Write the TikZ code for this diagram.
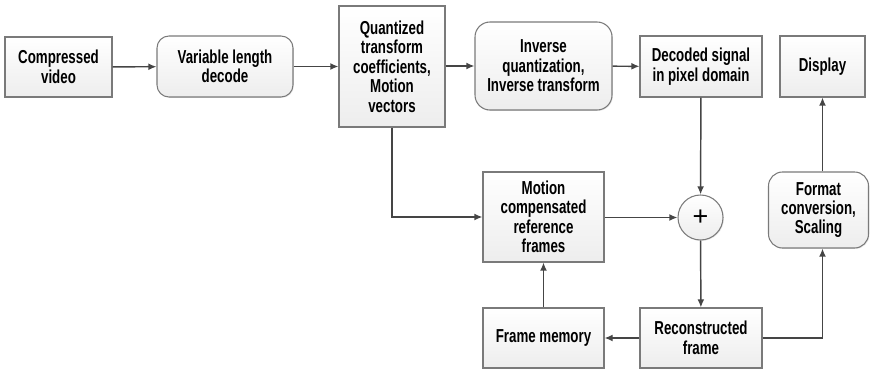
\documentclass[tikz,border=0pt]{standalone}
\usepackage{fontspec}
\setmainfont{Liberation Sans}[FakeStretch=0.71]
\newfontfamily\plusfont{Liberation Sans}
\usetikzlibrary{arrows.meta,shadows}
\definecolor{edgegray}{HTML}{7A7A7A}
\definecolor{linegray}{HTML}{454545}
\begin{document}
\begin{tikzpicture}[x=0.03cm,y=-0.03cm,
  sz/.style 2 args={minimum width=#1*0.03cm, minimum height=#2*0.03cm},
  blk/.style={draw=edgegray, line width=0.9pt, inner sep=0pt, align=center,
    top color=white, bottom color=black!7,
    drop shadow={shadow xshift=0.8pt, shadow yshift=-0.8pt, opacity=0.18},
    font=\fontsize{16pt}{16.6pt}\selectfont\bfseries},
  rblk/.style={blk, rounded corners=#1*0.03cm},
  sumnode/.style={blk, circle, minimum size=45*0.03cm},
  flow/.style={draw=linegray, line width=1.25pt, -{Latex[length=7pt,width=6pt]}}
]
\useasboundingbox (0,0) rectangle (870,370);

% top row
\node[blk, sz={107}{60}] (cv) at (58.5,67) {Compressed\\video};
\node[rblk=12, sz={136}{61}] (vld) at (225,66.5) {Variable length\\decode};
\node[blk, sz={106}{121}] (q) at (392,66.5) {Quantized\\transform\\coefficients,\\Motion\\vectors};
\node[rblk=15, sz={137}{88}] (iq) at (543.5,66) {Inverse\\quantization,\\Inverse transform};
\node[blk, sz={122}{61}] (ds) at (701,66.5) {Decoded signal\\in pixel domain};
\node[blk, sz={85}{61}] (disp) at (822.5,66.5) {Display};

% middle row
\node[blk, sz={121}{90}] (mc) at (543.5,217) {Motion\\compensated\\reference\\frames};
\node[sumnode, font=\plusfont\fontsize{23pt}{23pt}\selectfont] (sum) at (700.5,217.5) {+};
\node[rblk=14, sz={100}{76}] (fc) at (818.5,210) {Format\\conversion,\\Scaling};

% bottom row
\node[blk, sz={121}{60}] (fm) at (543.5,338) {Frame memory};
\node[blk, sz={122}{60}] (rc) at (701,338) {Reconstructed\\frame};

% connectors
\draw[flow] (cv) -- (vld);
\draw[flow] (vld) -- (q);
\draw[flow] (q.east |- iq.west) -- (iq);
\draw[flow] (iq) -- (ds);
\draw[flow] (ds) -- (sum);
\draw[flow] (q.south) |- (mc.west);
\draw[flow] (mc.east |- sum.west) -- (sum);
\draw[flow] (sum) -- (rc);
\draw[flow] (rc) -- (fm);
\draw[flow] (fm) -- (mc);
\draw[flow] (rc.east) -| (disp.center |- fc.south);
\draw[flow] (disp.center |- fc.north) -- (disp.south);
\end{tikzpicture}
\end{document}
